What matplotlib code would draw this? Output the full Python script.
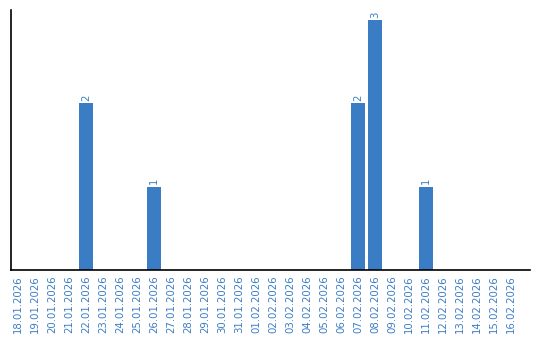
import matplotlib
matplotlib.use("Agg")
import matplotlib.pyplot as plt
import pandas as pd

dates = pd.date_range("2026-01-18", "2026-02-16", freq="D")
labels = [d.strftime("%d.%m.%Y") for d in dates]
counts_by_date = {"22.01.2026": 2, "26.01.2026": 1, "07.02.2026": 2,
                  "08.02.2026": 3, "11.02.2026": 1}
values = [counts_by_date.get(l, 0) for l in labels]

blue = "#3b7dc4"
fig = plt.figure(figsize=(5.4, 3.4), dpi=100)
ax = fig.add_axes([10.5/540, 70/340, 519.5/540, 260/340])
x = list(range(len(labels)))
bars = ax.bar(x, values, width=0.82, color=blue)
for xi, v in zip(x, values):
    if v > 0:
        ax.text(xi, v + 0.03, str(v), rotation=90, ha="center", va="bottom",
                color=blue, fontsize=7.3)
ax.set_xlim(-0.44, 30.1)
ax.set_ylim(0, 3.12)
ax.set_xticks(x)
ax.set_xticklabels(labels, rotation=90, color=blue, fontsize=7.3)
ax.tick_params(axis="x", length=0, pad=4)
ax.set_yticks([])
for s in ["top", "right"]:
    ax.spines[s].set_visible(False)
ax.spines["left"].set_linewidth(1.2)
ax.spines["bottom"].set_linewidth(1.2)
fig.savefig("out.png", dpi=100)
